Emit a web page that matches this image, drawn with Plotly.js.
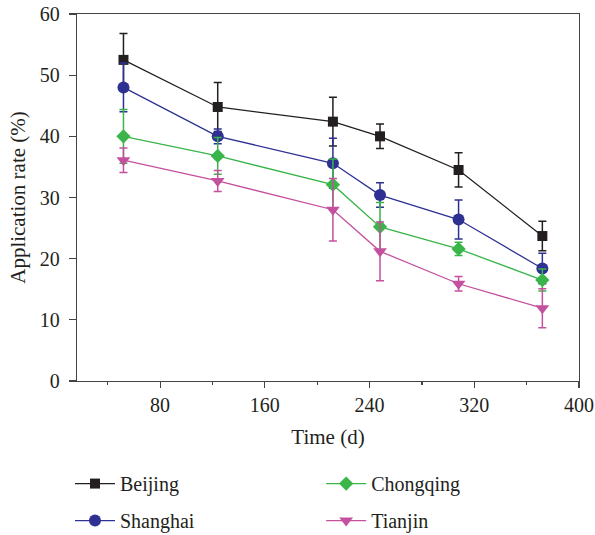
<!DOCTYPE html>
<html>
<head>
<meta charset="utf-8">
<script src="https://cdn.plot.ly/plotly-3.0.1.min.js"></script>
<style>html,body{margin:0;padding:0;background:#fff;}#chart{width:595px;height:535px;}</style>
</head>
<body>
<div id="chart"></div>
<script>
// Data
const days = [52, 124, 212, 248, 308, 372];
const seriesNames = ["Beijing", "Shanghai", "Chongqing", "Tianjin"];
const beijing = [52.5, 44.8, 42.4, 40.0, 34.5, 23.7];
const beijingErr = [4.3, 4.0, 4.0, 2.0, 2.8, 2.4];
const shanghai = [48.0, 40.0, 35.6, 30.4, 26.4, 18.4];
const shanghaiErr = [4.0, 1.2, 4.1, 2.0, 3.2, 2.5];
const chongqing = [40.0, 36.8, 32.1, 25.2, 21.6, 16.5];
const chongqingErr = [4.4, 3.0, 4.2, 4.0, 1.1, 1.8];
const tianjin = [36.1, 32.7, 28.0, 21.2, 15.9, 11.9];
const tianjinErr = [2.0, 1.7, 5.1, 4.8, 1.2, 3.2];
const xTickVals = [80, 160, 240, 320, 400];
const yTickVals = [0, 10, 20, 30, 40, 50, 60];

const colors = ["#231f20", "#2e3192", "#39b54a", "#c4509e"];
const symbols = ["square", "circle", "diamond", "triangle-down"];
const sizes = [10, 12, 11, 12];
const values = [beijing, shanghai, chongqing, tianjin];
const errs = [beijingErr, shanghaiErr, chongqingErr, tianjinErr];
const legends = ["legend", "legend", "legend2", "legend2"];

const traces = seriesNames.map((name, i) => ({
  type: "scatter",
  mode: "lines+markers",
  name: name,
  x: days,
  y: values[i],
  legend: legends[i],
  legendgroup: name,
  line: {color: colors[i], width: 1.3},
  marker: {color: colors[i], symbol: symbols[i], size: sizes[i], line: {width: 0}},
  error_y: {type: "data", array: errs[i], visible: true, color: colors[i], thickness: 1.5, width: 4}
}));

const font = "'Liberation Serif', 'Times New Roman', serif";
const plotW = 595 - 77 - 16.3, plotH = 535 - 14.3 - 154;
const legendTop = (381 - 464) / plotH;
const layout = {
  width: 595,
  height: 535,
  margin: {l: 77, r: 16.3, t: 14.3, b: 154, autoexpand: false},
  paper_bgcolor: "#ffffff",
  plot_bgcolor: "#ffffff",
  font: {family: font, color: "#231f20", size: 20},
  showlegend: true,
  xaxis: {
    range: [16.5, 400],
    tickvals: xTickVals,
    ticks: "outside",
    ticklen: 6,
    tickwidth: 1.2,
    tickcolor: "#444",
    showline: true,
    mirror: true,
    linecolor: "#444",
    linewidth: 1.3,
    showgrid: false,
    zeroline: false,
    tickangle: 0,
    tickfont: {family: font, size: 20, color: "#231f20"},
    minor: {tickvals: [40, 120, 200, 280, 360], ticks: "outside", ticklen: 3, tickwidth: 1.2, tickcolor: "#444", showgrid: false},
    title: {text: "Time (d)", font: {family: font, size: 21, color: "#231f20"}, standoff: 14}
  },
  yaxis: {
    range: [0, 60],
    tickvals: yTickVals,
    ticks: "outside",
    ticklen: 7,
    tickwidth: 1.2,
    tickcolor: "#444",
    showline: true,
    mirror: true,
    linecolor: "#444",
    linewidth: 1.3,
    showgrid: false,
    zeroline: false,
    ticklabelstandoff: 5,
    tickfont: {family: font, size: 20, color: "#231f20"},
    title: {text: "Application rate (%)", font: {family: font, size: 21, color: "#231f20"}, standoff: 8}
  },
  legend: {
    x: (70 - 77) / plotW, y: legendTop, xanchor: "left", yanchor: "top",
    orientation: "v", tracegroupgap: 8, itemwidth: 40,
    font: {family: font, size: 20, color: "#231f20"},
    bgcolor: "rgba(0,0,0,0)", borderwidth: 0
  },
  legend2: {
    x: (321 - 77) / plotW, y: legendTop, xanchor: "left", yanchor: "top",
    orientation: "v", tracegroupgap: 8, itemwidth: 40,
    font: {family: font, size: 20, color: "#231f20"},
    bgcolor: "rgba(0,0,0,0)", borderwidth: 0
  }
};

Plotly.newPlot("chart", traces, layout, {displayModeBar: false, staticPlot: true});
</script>
</body>
</html>
